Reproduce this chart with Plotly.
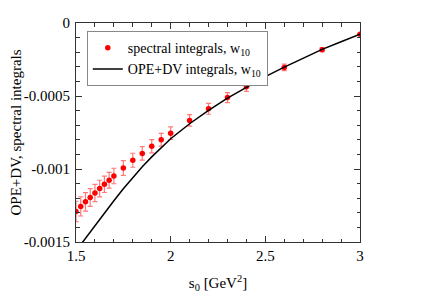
import plotly.graph_objects as go

# spectral integrals (points with errors)
s0_points = [1.5, 1.525, 1.55, 1.575, 1.6, 1.625, 1.65, 1.675, 1.7, 1.75, 1.8, 1.85,
             1.9, 1.95, 2.0, 2.1, 2.2, 2.3, 2.4, 2.6, 2.8, 3.0]
spectral = [-0.001291, -0.001256, -0.001225, -0.001195, -0.001164, -0.001134, -0.001105,
            -0.001077, -0.001048, -0.000993, -0.000940, -0.000893, -0.000844, -0.000800,
            -0.000755, -0.000667, -0.000588, -0.000511, -0.000437, -0.000304, -0.000183,
            -0.000077]
spectral_err = [7.0e-5, 6.6e-5, 6.3e-5, 6.1e-5, 5.9e-5, 5.7e-5, 5.6e-5, 5.4e-5, 5.3e-5,
                5.0e-5, 4.8e-5, 4.6e-5, 4.5e-5, 4.4e-5, 4.3e-5, 4.0e-5, 3.7e-5, 3.4e-5,
                3.1e-5, 2.2e-5, 1.4e-5, 6e-6]

# OPE+DV integrals (curve)
s0_curve = [1.5, 1.535, 1.55, 1.6, 1.65, 1.7, 1.75, 1.8, 1.85, 1.9, 1.95, 2.0, 2.1, 2.2,
            2.3, 2.4, 2.5, 2.6, 2.7, 2.8, 2.9, 3.0]
ope_dv = [-0.001561, -0.001500, -0.001474, -0.001387, -0.001301, -0.001217, -0.001135,
          -0.001056, -0.000984, -0.000917, -0.000853, -0.000793, -0.000690, -0.000598,
          -0.000514, -0.000438, -0.000367, -0.000302, -0.000240, -0.000181, -0.000128,
          -0.000077]

x_tickvals = [1.5, 2, 2.5, 3]
x_ticktext = ["1.5", "2", "2.5", "3"]
y_tickvals = [0, -0.0005, -0.001, -0.0015]
y_ticktext = ["0", "-0.0005", "-0.001", "-0.0015"]

FONT = "Liberation Serif"

fig = go.Figure()
fig.add_trace(go.Scatter(
    x=s0_points, y=spectral, mode="markers",
    name="spectral integrals, w<sub>10</sub>",
    marker=dict(color="#ff0000", size=5.5, symbol="circle"),
    error_y=dict(type="data", array=spectral_err, visible=True,
                 color="rgba(255,50,50,0.65)", thickness=1.2, width=2.5),
))
fig.add_trace(go.Scatter(
    x=s0_curve, y=ope_dv, mode="lines",
    name="OPE+DV integrals, w<sub>10</sub>",
    line=dict(color="black", width=1.5),
))

axis_common = dict(
    showline=True, linecolor="#333333", linewidth=1, mirror="allticks",
    ticks="inside", ticklen=6, tickcolor="#333333", tickwidth=1,
    showgrid=False, zeroline=False, ticklabeloverflow="allow",
    tickfont=dict(family=FONT, size=15, color="black"),
)

fig.update_xaxes(
    range=[1.5, 3], tickvals=x_tickvals, ticktext=x_ticktext,
    minor=dict(ticks="inside", dtick=0.1, ticklen=3.5, tickcolor="#333333", showgrid=False),
    title=dict(text="s<sub>0</sub> [GeV<sup>2</sup>]", font=dict(family=FONT, size=15, color="black"), standoff=14),
    **axis_common,
)
fig.update_yaxes(
    range=[-0.0015, 0], tickvals=y_tickvals, ticktext=y_ticktext,
    minor=dict(ticks="inside", dtick=0.0001, ticklen=3.5, tickcolor="#333333", showgrid=False),
    ticklabelstandoff=2,
    **axis_common,
)

fig.add_annotation(
    text="OPE+DV, spectral integrals", textangle=-90,
    xref="paper", yref="paper", x=(15 - 76) / 284, y=0.5,
    xanchor="center", yanchor="middle", showarrow=False,
    font=dict(family=FONT, size=15, color="black"),
)

fig.update_layout(
    width=431, height=304,
    margin=dict(l=68, r=79, t=7, b=70),
    paper_bgcolor="white", plot_bgcolor="white",
    showlegend=True,
    legend=dict(
        x=0.038, y=0.963, xanchor="left", yanchor="top",
        bgcolor="white", bordercolor="#888888", borderwidth=1,
        font=dict(family=FONT, size=14, color="black"),
        itemwidth=30, tracegroupgap=0,
    ),
)

fig.write_html("out.html")
